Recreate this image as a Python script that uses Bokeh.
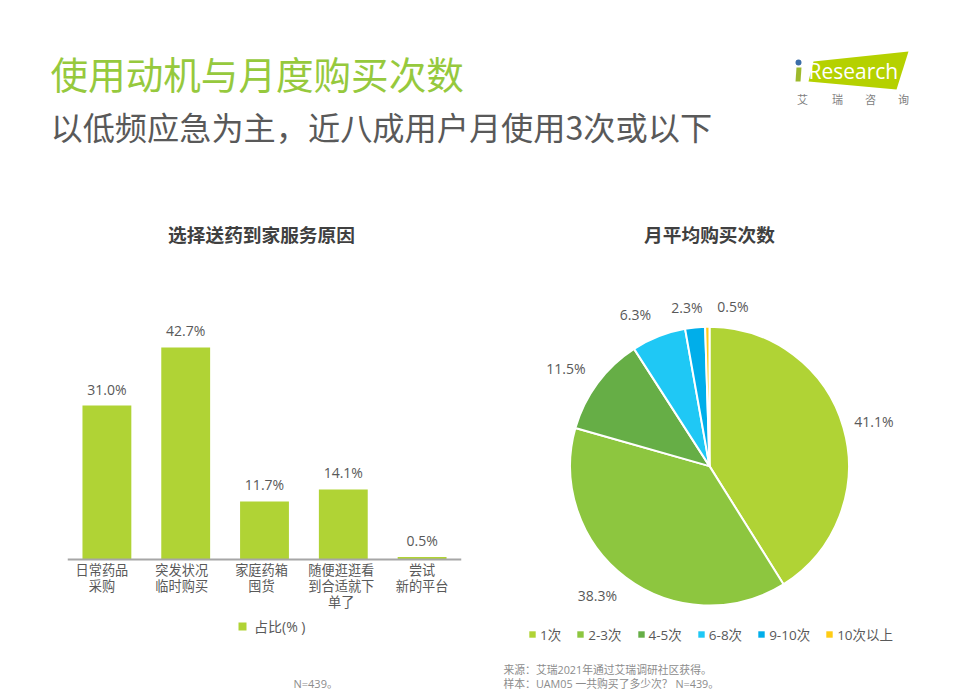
import math
from bokeh.embed import file_html
from bokeh.layouts import column, row
from bokeh.models import ColumnDataSource, FactorRange, Label, Legend, LegendItem, Range1d, Span
from bokeh.plotting import figure
from bokeh.resources import INLINE

# ---------- data ----------
reasons = ["日常药品\n采购", "突发状况\n临时购买", "家庭药箱\n囤货", "随便逛逛看\n到合适就下\n单了", "尝试\n新的平台"]
reason_share = [31.0, 42.7, 11.7, 14.1, 0.5]
freq_labels = ["1次", "2-3次", "4-5次", "6-8次", "9-10次", "10次以上"]
freq_share = [41.1, 38.3, 11.5, 6.3, 2.3, 0.5]
freq_colors = ["#B0D335", "#8DC63F", "#66AE46", "#1FC8F5", "#00AEEA", "#FFCC14"]
title_main = "使用动机与月度购买次数"
title_sub = "以低频应急为主，近八成用户月使用3次或以下"
title_bar = "选择送药到家服务原因"
title_pie = "月平均购买次数"
series_name = "占比(% )"
note_left = "N=439。"
note_src = "来源：艾瑞2021年通过艾瑞调研社区获得。"
note_sample = "样本：UAM05 一共购买了多少次？ N=439。"

FONT = "'Open Sans','Noto Sans CJK SC'"
CJK = "'Noto Sans CJK SC'"
GRAY = "#595959"
HEAD_H, BODY_H = 200, 491
TOP = HEAD_H
PAGE_H = 691
ZERO_Y = 559
PX_PER_PCT = 4.965


def label(fig, left, page_x, page_y, text, size, color=GRAY, align="left", weight="normal", font=FONT):
    fig.add_layout(Label(x=page_x - left, y=PAGE_H - page_y, x_units="screen", y_units="screen",
                         text=text, text_font=font, text_font_size=size, text_color=color,
                         text_align=align, text_baseline="middle", text_font_style=weight))


# ---------- header ----------
head = figure(width=959, height=HEAD_H, output_backend="svg", toolbar_location=None,
              x_range=Range1d(0, 959), y_range=Range1d(200, 0), min_border=0, outline_line_color=None)
head.axis.visible = False
head.grid.visible = False
head.text(x=[50], y=[72], text=[title_main], text_font={"value": CJK}, text_font_size="37.6px",
          text_color="#96C93D", text_baseline="middle")
head.text(x=[50], y=[125], text=[title_sub], text_font={"value": CJK}, text_font_size="32.2px",
          text_color=GRAY, text_baseline="middle")
head.patch(x=[813, 908, 896, 808], y=[61, 51, 89, 81], color="#B5D100", line_width=0)
head.patch(x=[796, 801, 800, 795], y=[67, 67, 81, 81], color="#9DB92C", line_width=0)
head.scatter(x=[798], y=[62], size=6, color="#3C6EA8", line_width=0)
head.text(x=[808], y=[70], text=["Research"], text_font={"value": "Open Sans"}, text_font_size="21px",
          text_color="white", text_baseline="middle")
head.text(x=[802, 837, 870, 903], y=[98] * 4, text=list("艾瑞咨询"), text_font={"value": CJK},
          text_font_size="11px", text_color="#808080", text_baseline="middle", text_align="center")

# ---------- bars ----------
BAR_W = 488
bar = figure(width=BAR_W, height=BODY_H, output_backend="svg", toolbar_location=None,
             x_range=FactorRange(*reasons), x_axis_location=None,
             y_range=Range1d(-(PAGE_H - ZERO_Y) / PX_PER_PCT, (ZERO_Y - TOP) / PX_PER_PCT),
             min_border_left=67, min_border_right=27, min_border_top=0, min_border_bottom=0,
             outline_line_color=None)
bar.grid.visible = False
bar.yaxis.visible = False
src = ColumnDataSource(dict(x=reasons, y=reason_share, base=[0] * len(reasons),
                            dx=[-5, -4, -3, -2, 0],
                            t=[f"{v:.1f}%" for v in reason_share]))
bars = bar.vbar(x="x", top="y", width=0.62, source=src, color="#B0D335", line_width=0)
bar.add_layout(Span(location=0, dimension="width", line_color="#A6A6A6", line_width=2))
bar.text(x="x", y="base", text="x", source=src, x_offset="dx", text_font={"value": CJK},
         text_font_size="13.2px", text_color=GRAY, text_align="center", text_baseline="top",
         text_line_height=0.85, y_offset=0)
bar.text(x="x", y="y", text="t", source=src, text_font={"value": FONT}, text_font_size="14px",
         text_color=GRAY, text_align="center", text_baseline="bottom", y_offset=-7)
leg = Legend(items=[LegendItem(label=series_name, renderers=[bars])], location=(170, 55),
             border_line_color=None, background_fill_alpha=0, glyph_width=10, glyph_height=10,
             label_standoff=7, label_text_font=FONT, label_text_font_size="14px",
             label_text_color=GRAY, margin=0, padding=0)
bar.add_layout(leg)
label(bar, 67, 261, 233, title_bar, "18.7px", "#404040", "center", "bold", CJK)
label(bar, 67, 293, 682.5, note_left, "11px", "#8C8C8C")

# ---------- pie ----------
PIE_LEFT = BAR_W
PIE_W = 959 - BAR_W
R_PX = 139.4
cx, cy = 709 - PIE_LEFT, 465.6 - TOP
pie = figure(width=PIE_W, height=BODY_H, output_backend="svg", toolbar_location=None,
             x_range=Range1d(-cx / R_PX, (PIE_W - cx) / R_PX),
             y_range=Range1d(-(BODY_H - cy) / R_PX, cy / R_PX),
             min_border=0, outline_line_color=None)
pie.axis.visible = False
pie.grid.visible = False
start, end, mid = [], [], []
acc = 0.0
for v in freq_share:
    start.append(math.pi / 2 - acc / 100 * 2 * math.pi)
    acc += v
    end.append(math.pi / 2 - acc / 100 * 2 * math.pi)
    mid.append((start[-1] + end[-1]) / 2)
psrc = ColumnDataSource(dict(
    start=start, end=end, color=freq_colors, name=freq_labels,
    lx=[1.22 * math.cos(a) for a in mid], ly=[1.22 * math.sin(a) for a in mid],
    t=[f"{v:.1f}%" for v in freq_share],
    dx=[1, -10, -7, -12, -5, 26], dy=[2, -7, 4, 7, 11, 10]))
wedges = pie.wedge(x=0, y=0, radius=1, start_angle="start", end_angle="end", direction="clock",
                   fill_color="color", line_color="white", line_width=2, source=psrc)
keys = pie.wedge(x=0, y=0, radius=0, start_angle="start", end_angle="end", direction="clock",
                 fill_color="color", line_alpha=0, source=psrc)
pie.text(x="lx", y="ly", text="t", source=psrc, x_offset="dx", y_offset="dy",
         text_font={"value": FONT}, text_font_size="14px", text_color=GRAY,
         text_align="center", text_baseline="middle")
items = [LegendItem(label=n, renderers=[keys], index=i) for i, n in enumerate(freq_labels)]
pleg = Legend(items=items, orientation="horizontal", location=(40, 47), border_line_color=None,
              background_fill_alpha=0, glyph_width=8, glyph_height=8, label_standoff=4, spacing=15,
              label_text_font=FONT, label_text_font_size="13.5px", label_text_color=GRAY,
              margin=0, padding=0)
pie.add_layout(pleg)
label(pie, PIE_LEFT, 709, 233, title_pie, "18.7px", "#404040", "center", "bold", CJK)
label(pie, PIE_LEFT, 503, 669, note_src, "10.8px", "#8C8C8C")
label(pie, PIE_LEFT, 503, 682.5, note_sample, "10.8px", "#8C8C8C")

page = column(head, row(bar, pie, spacing=0), spacing=0)
open("out.html", "w").write(file_html(page, INLINE))
